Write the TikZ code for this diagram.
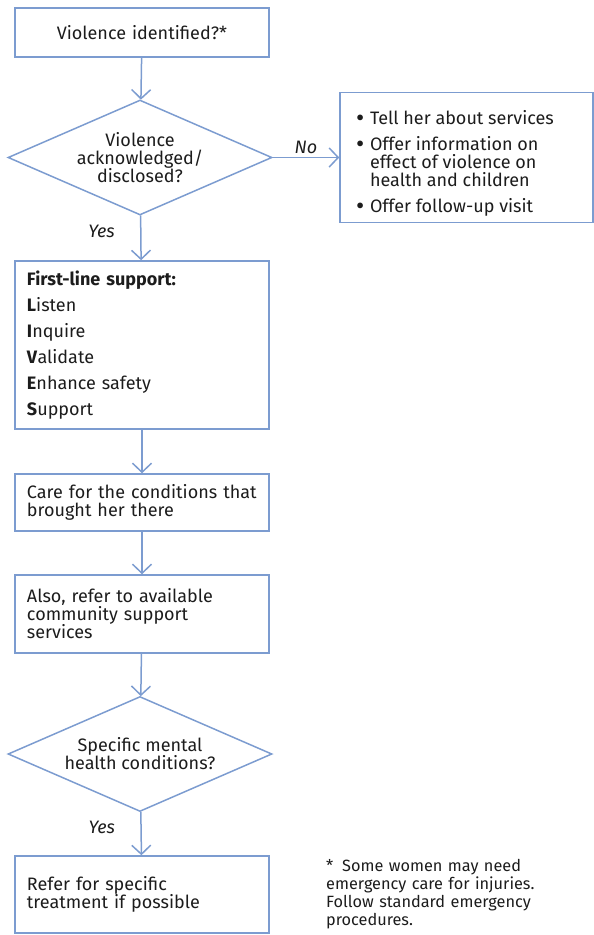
\documentclass[tikz,border=0pt]{standalone}
\usepackage{fontspec}
\setmainfont{Fira Sans}
\usetikzlibrary{positioning, calc}
\usetikzlibrary{shapes.geometric, arrows.meta}
\definecolor{flowline}{RGB}{124,156,208}
\definecolor{flowtext}{RGB}{28,28,28}
\newcommand{\bitem}[1]{\par\hangindent=14pt\hangafter=1\noindent\makebox[14pt][l]{\raisebox{-1.8pt}{\scalebox{1.4}{\textbullet}}}#1}
\newcommand{\lv}[1]{\textbf{#1}}
\tikzset{
    flowbox/.style={draw=flowline, line width=1.5pt, rectangle, minimum width=254pt, text width=230pt,
        inner xsep=12pt, align=left, text=flowtext, font={\fontsize{18}{18}\selectfont}},
    flowcheck/.style={draw=flowline, line width=1.5pt, diamond, aspect=2.3, minimum width=264pt,
        minimum height=115pt, inner sep=0pt, align=center, text=flowtext, font={\fontsize{18}{18}\selectfont}},
    flowarrow/.style={draw=flowline, line width=1.5pt, -{Straight Barb[length=9pt,width=19pt,line width=1.5pt]}},
    flowlabel/.style={text=flowtext, font={\fontsize{18}{18}\selectfont\itshape}}
}

\begin{document}
\begin{tikzpicture}[x=1pt, y=-1pt]
    \useasboundingbox (0,0) rectangle (594,935);
    \node[flowbox, minimum height=49pt, align=center] (identified) at (142,32.5) {Violence identified?*};
    \node[flowcheck] (disclosed) at (140,157.5) {Violence\\acknowledged/\\disclosed?};
    \node[flowbox, minimum width=253pt, text width=221pt, inner xsep=16pt, minimum height=130pt, align=none] (services) at (466.5,157.5)
        {\raggedright\parskip=8pt
         \bitem{Tell her about services}
         \bitem{Offer information on\newline effect of violence on\newline health and children}
         \bitem{Offer follow-up visit}};
    \node[flowbox, minimum height=168pt, font={\fontsize{18}{26}\selectfont}] (lives) at (142,345)
        {\lv{First-line support:}\\\lv{L}isten\\\lv{I}nquire\\\lv{V}alidate\\\lv{E}nhance safety\\\lv{S}upport};
    \node[flowbox, minimum height=57pt] (care) at (142,502.5) {\mbox{Care for the conditions that}\\brought her there};
    \node[flowbox, minimum height=78pt] (refer) at (142,614) {Also, refer to available\\community support\\services};
    \node[flowcheck] (mental) at (140,754) {Specific mental\\health conditions?};
    \node[flowbox, minimum height=77pt] (treat) at (142,894.5) {Refer for specific\\treatment if possible};
    \node[anchor=north west, text width=262pt, inner sep=0pt, text=flowtext, font={\fontsize{16.3}{18}\selectfont}] (note) at (326,859)
        {\hangindent=16pt\hangafter=1\noindent\makebox[16pt][l]{*}Some women may need\newline emergency care for injuries.\newline Follow standard emergency\newline procedures.};

    \draw[flowarrow] (identified) -- (disclosed);
    \draw[flowarrow] (disclosed) -- node[flowlabel, above] {No} (services);
    \draw[flowarrow] (disclosed) -- node[flowlabel, pos=0.35, left=22pt] {Yes} (lives);
    \draw[flowarrow] (lives) -- (care);
    \draw[flowarrow] (care) -- (refer);
    \draw[flowarrow] (refer) -- (mental);
    \draw[flowarrow] (mental) -- node[flowlabel, pos=0.35, left=22pt] {Yes} (treat);
\end{tikzpicture}
\end{document}
